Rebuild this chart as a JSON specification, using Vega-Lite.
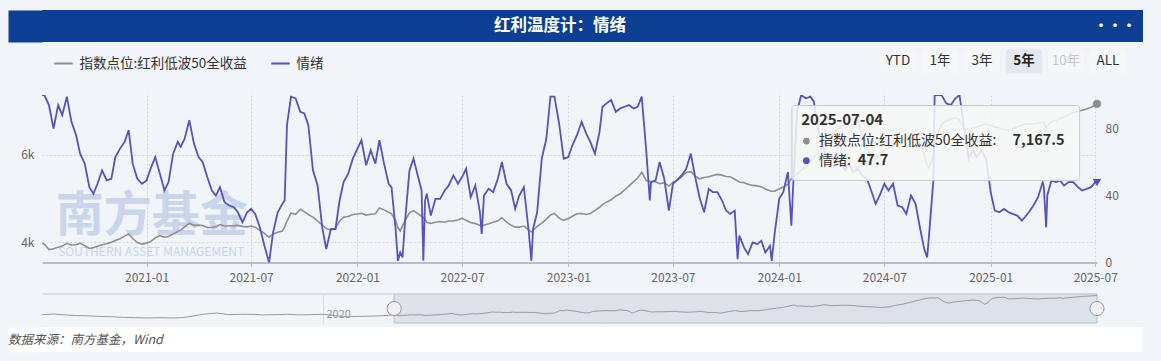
{
  "$schema": "https://vega.github.io/schema/vega-lite/v6.json",
  "background": "#f1f4f9",
  "padding": {"left": 8, "top": 10, "right": 18, "bottom": 11},
  "columns": 1,
  "spacing": 0,
  "resolve": {"scale": {"stroke": "independent"}, "legend": {"stroke": "independent"}},
  "config": {"font": "Noto Sans CJK SC", "view": {"stroke": null}},
  "datasets": {
    "main": [
      {"date":"2020-07-04","index":3970,"sent":100},{"date":"2020-07-08","index":3960,"sent":100},{"date":"2020-07-16","index":3830,"sent":94},{"date":"2020-07-24","index":3850,"sent":80},
      {"date":"2020-08-01","index":3886,"sent":94},{"date":"2020-08-08","index":3910,"sent":88},{"date":"2020-08-16","index":3975,"sent":99},{"date":"2020-08-24","index":3935,"sent":84},
      {"date":"2020-09-01","index":3943,"sent":76},{"date":"2020-09-08","index":3978,"sent":65},{"date":"2020-09-16","index":3920,"sent":59},{"date":"2020-09-24","index":3855,"sent":45},
      {"date":"2020-10-01","index":3871,"sent":41},{"date":"2020-10-08","index":3905,"sent":47},{"date":"2020-10-16","index":3940,"sent":55},{"date":"2020-10-24","index":3963,"sent":49},
      {"date":"2020-11-01","index":4000,"sent":50},{"date":"2020-11-08","index":4040,"sent":63},{"date":"2020-11-16","index":4078,"sent":68},{"date":"2020-11-24","index":4140,"sent":72},
      {"date":"2020-12-01","index":4190,"sent":79},{"date":"2020-12-08","index":4085,"sent":59},{"date":"2020-12-16","index":3990,"sent":50},{"date":"2020-12-24","index":3955,"sent":47},
      {"date":"2021-01-01","index":3978,"sent":49},{"date":"2021-01-08","index":4015,"sent":56},{"date":"2021-01-16","index":4100,"sent":63},{"date":"2021-01-24","index":4150,"sent":53},
      {"date":"2021-02-01","index":4115,"sent":43},{"date":"2021-02-08","index":4130,"sent":48},{"date":"2021-02-16","index":4190,"sent":65},{"date":"2021-02-24","index":4245,"sent":72},
      {"date":"2021-03-01","index":4275,"sent":69},{"date":"2021-03-08","index":4350,"sent":74},{"date":"2021-03-16","index":4435,"sent":85},{"date":"2021-03-24","index":4385,"sent":71},
      {"date":"2021-04-01","index":4390,"sent":63},{"date":"2021-04-08","index":4382,"sent":60},{"date":"2021-04-16","index":4340,"sent":51},{"date":"2021-04-24","index":4335,"sent":43},
      {"date":"2021-05-01","index":4355,"sent":40},{"date":"2021-05-08","index":4404,"sent":45},{"date":"2021-05-16","index":4370,"sent":36},{"date":"2021-05-24","index":4377,"sent":34},
      {"date":"2021-06-01","index":4378,"sent":33},{"date":"2021-06-08","index":4385,"sent":30},{"date":"2021-06-16","index":4362,"sent":24},{"date":"2021-06-24","index":4350,"sent":30},
      {"date":"2021-07-01","index":4370,"sent":32},{"date":"2021-07-08","index":4344,"sent":29},{"date":"2021-07-16","index":4270,"sent":21},{"date":"2021-07-24","index":4200,"sent":10},
      {"date":"2021-08-01","index":4115,"sent":0},{"date":"2021-08-08","index":4190,"sent":18},{"date":"2021-08-16","index":4230,"sent":30},{"date":"2021-08-24","index":4255,"sent":35},{"date":"2021-08-28","index":4350,"sent":37},
      {"date":"2021-09-01","index":4480,"sent":82},{"date":"2021-09-08","index":4670,"sent":99},{"date":"2021-09-16","index":4640,"sent":98},{"date":"2021-09-24","index":4755,"sent":90},
      {"date":"2021-10-01","index":4700,"sent":89},{"date":"2021-10-08","index":4630,"sent":82},{"date":"2021-10-16","index":4575,"sent":55},{"date":"2021-10-24","index":4485,"sent":46},
      {"date":"2021-11-01","index":4390,"sent":21},{"date":"2021-11-08","index":4310,"sent":8},{"date":"2021-11-16","index":4280,"sent":20},{"date":"2021-11-24","index":4320,"sent":20},
      {"date":"2021-12-01","index":4480,"sent":37},{"date":"2021-12-08","index":4573,"sent":48},{"date":"2021-12-16","index":4590,"sent":53},{"date":"2021-12-24","index":4634,"sent":62},
      {"date":"2022-01-01","index":4645,"sent":68},{"date":"2022-01-08","index":4660,"sent":73},{"date":"2022-01-16","index":4620,"sent":58},{"date":"2022-01-24","index":4640,"sent":67},
      {"date":"2022-02-01","index":4650,"sent":59},{"date":"2022-02-08","index":4785,"sent":73},{"date":"2022-02-16","index":4740,"sent":59},{"date":"2022-02-24","index":4687,"sent":47},
      {"date":"2022-03-01","index":4650,"sent":45},{"date":"2022-03-08","index":4500,"sent":20},{"date":"2022-03-12","index":4330,"sent":1},{"date":"2022-03-16","index":4260,"sent":6},{"date":"2022-03-20","index":4380,"sent":3},{"date":"2022-03-24","index":4480,"sent":23},
      {"date":"2022-04-01","index":4670,"sent":55},{"date":"2022-04-08","index":4722,"sent":62},{"date":"2022-04-16","index":4650,"sent":51},{"date":"2022-04-22","index":4590,"sent":43},{"date":"2022-04-25","index":4570,"sent":1},{"date":"2022-04-28","index":4520,"sent":37},
      {"date":"2022-05-01","index":4455,"sent":41},{"date":"2022-05-08","index":4430,"sent":28},{"date":"2022-05-16","index":4458,"sent":38},{"date":"2022-05-24","index":4473,"sent":38},
      {"date":"2022-06-01","index":4458,"sent":43},{"date":"2022-06-08","index":4485,"sent":46},{"date":"2022-06-16","index":4485,"sent":52},{"date":"2022-06-24","index":4510,"sent":47},
      {"date":"2022-07-01","index":4545,"sent":51},{"date":"2022-07-08","index":4500,"sent":56},{"date":"2022-07-16","index":4452,"sent":39},{"date":"2022-07-24","index":4425,"sent":46},
      {"date":"2022-08-01","index":4382,"sent":30},{"date":"2022-08-04","index":4382,"sent":17},{"date":"2022-08-08","index":4390,"sent":40},{"date":"2022-08-16","index":4420,"sent":44},{"date":"2022-08-24","index":4458,"sent":42},
      {"date":"2022-09-01","index":4490,"sent":50},{"date":"2022-09-08","index":4560,"sent":60},{"date":"2022-09-16","index":4458,"sent":47},{"date":"2022-09-24","index":4390,"sent":43},
      {"date":"2022-10-01","index":4344,"sent":32},{"date":"2022-10-08","index":4344,"sent":40},{"date":"2022-10-16","index":4370,"sent":45},{"date":"2022-10-24","index":4285,"sent":20},{"date":"2022-10-29","index":4232,"sent":1},
      {"date":"2022-11-01","index":4268,"sent":20},{"date":"2022-11-08","index":4360,"sent":30},{"date":"2022-11-16","index":4435,"sent":62},{"date":"2022-11-24","index":4530,"sent":74},
      {"date":"2022-12-01","index":4620,"sent":99},{"date":"2022-12-08","index":4660,"sent":99},{"date":"2022-12-16","index":4550,"sent":83},{"date":"2022-12-24","index":4500,"sent":62},
      {"date":"2023-01-01","index":4540,"sent":63},{"date":"2023-01-08","index":4595,"sent":70},{"date":"2023-01-16","index":4650,"sent":76},{"date":"2023-01-24","index":4655,"sent":84},
      {"date":"2023-02-01","index":4635,"sent":77},{"date":"2023-02-08","index":4655,"sent":72},{"date":"2023-02-16","index":4730,"sent":65},{"date":"2023-02-24","index":4800,"sent":78},
      {"date":"2023-03-01","index":4860,"sent":93},{"date":"2023-03-08","index":4916,"sent":95},{"date":"2023-03-16","index":4970,"sent":97},{"date":"2023-03-24","index":5055,"sent":90},
      {"date":"2023-04-01","index":5110,"sent":92},{"date":"2023-04-08","index":5190,"sent":93},{"date":"2023-04-16","index":5290,"sent":94},{"date":"2023-04-24","index":5385,"sent":92},
      {"date":"2023-05-01","index":5470,"sent":93},{"date":"2023-05-08","index":5600,"sent":99},{"date":"2023-05-16","index":5412,"sent":66},{"date":"2023-05-22","index":5395,"sent":37},{"date":"2023-05-24","index":5390,"sent":48},
      {"date":"2023-06-01","index":5385,"sent":49},{"date":"2023-06-08","index":5340,"sent":60},{"date":"2023-06-16","index":5362,"sent":50},{"date":"2023-06-24","index":5285,"sent":31},
      {"date":"2023-07-01","index":5370,"sent":47},{"date":"2023-07-08","index":5418,"sent":49},{"date":"2023-07-16","index":5495,"sent":52},{"date":"2023-07-24","index":5598,"sent":56},
      {"date":"2023-08-01","index":5615,"sent":65},{"date":"2023-08-08","index":5520,"sent":52},{"date":"2023-08-16","index":5452,"sent":39},{"date":"2023-08-24","index":5480,"sent":30},
      {"date":"2023-09-01","index":5498,"sent":44},{"date":"2023-09-08","index":5525,"sent":42},{"date":"2023-09-16","index":5553,"sent":42},{"date":"2023-09-24","index":5535,"sent":37},
      {"date":"2023-10-01","index":5505,"sent":31},{"date":"2023-10-08","index":5500,"sent":29},{"date":"2023-10-16","index":5440,"sent":31},{"date":"2023-10-21","index":5400,"sent":2},{"date":"2023-10-24","index":5378,"sent":16},
      {"date":"2023-11-01","index":5363,"sent":9},{"date":"2023-11-08","index":5328,"sent":5},{"date":"2023-11-16","index":5300,"sent":12},{"date":"2023-11-24","index":5290,"sent":11},
      {"date":"2023-12-01","index":5268,"sent":13},{"date":"2023-12-08","index":5220,"sent":6},{"date":"2023-12-16","index":5180,"sent":10},{"date":"2023-12-19","index":5165,"sent":1},{"date":"2023-12-24","index":5165,"sent":17},
      {"date":"2024-01-01","index":5218,"sent":38},{"date":"2024-01-08","index":5262,"sent":42},{"date":"2024-01-16","index":5330,"sent":54},{"date":"2024-01-22","index":5450,"sent":22},{"date":"2024-01-25","index":5490,"sent":45},
      {"date":"2024-02-01","index":5560,"sent":90},{"date":"2024-02-08","index":5650,"sent":100},{"date":"2024-02-16","index":5720,"sent":98},{"date":"2024-02-24","index":5850,"sent":99},
      {"date":"2024-03-01","index":5950,"sent":96},{"date":"2024-03-08","index":6050,"sent":80},{"date":"2024-03-16","index":6200,"sent":70},{"date":"2024-03-24","index":6300,"sent":62},
      {"date":"2024-04-01","index":6400,"sent":64},{"date":"2024-04-08","index":6550,"sent":58},{"date":"2024-04-16","index":6650,"sent":60},{"date":"2024-04-24","index":6720,"sent":55},
      {"date":"2024-05-01","index":6760,"sent":59},{"date":"2024-05-08","index":6700,"sent":54},{"date":"2024-05-16","index":6800,"sent":56},{"date":"2024-05-24","index":6450,"sent":52},
      {"date":"2024-06-01","index":6150,"sent":50},{"date":"2024-06-08","index":5950,"sent":43},{"date":"2024-06-16","index":5900,"sent":35},{"date":"2024-06-24","index":6050,"sent":41},
      {"date":"2024-07-01","index":6100,"sent":47},{"date":"2024-07-08","index":6150,"sent":43},{"date":"2024-07-16","index":6200,"sent":47},{"date":"2024-07-24","index":6250,"sent":34},
      {"date":"2024-08-01","index":6300,"sent":33},{"date":"2024-08-08","index":6350,"sent":29},{"date":"2024-08-16","index":6400,"sent":40},{"date":"2024-08-24","index":6350,"sent":35},
      {"date":"2024-09-01","index":6250,"sent":20},{"date":"2024-09-08","index":6000,"sent":8},{"date":"2024-09-13","index":5750,"sent":3},{"date":"2024-09-16","index":5700,"sent":15},{"date":"2024-09-24","index":5950,"sent":50},{"date":"2024-09-26","index":6200,"sent":100},
      {"date":"2024-10-01","index":6450,"sent":100},{"date":"2024-10-08","index":6700,"sent":100},{"date":"2024-10-16","index":6780,"sent":95},{"date":"2024-10-24","index":6820,"sent":94},
      {"date":"2024-11-01","index":6860,"sent":98},{"date":"2024-11-08","index":6800,"sent":100},{"date":"2024-11-16","index":6600,"sent":80},{"date":"2024-11-24","index":6580,"sent":62},
      {"date":"2024-12-01","index":6620,"sent":67},{"date":"2024-12-08","index":6630,"sent":63},{"date":"2024-12-16","index":6680,"sent":67},{"date":"2024-12-24","index":6710,"sent":62},
      {"date":"2025-01-01","index":6680,"sent":42},{"date":"2025-01-08","index":6640,"sent":31},{"date":"2025-01-16","index":6620,"sent":30},{"date":"2025-01-24","index":6580,"sent":32},
      {"date":"2025-02-01","index":6560,"sent":30},{"date":"2025-02-08","index":6600,"sent":29},{"date":"2025-02-16","index":6640,"sent":28},{"date":"2025-02-24","index":6680,"sent":25},
      {"date":"2025-03-01","index":6700,"sent":27},{"date":"2025-03-08","index":6710,"sent":30},{"date":"2025-03-16","index":6710,"sent":34},{"date":"2025-03-24","index":6720,"sent":39},
      {"date":"2025-04-01","index":6740,"sent":48},{"date":"2025-04-03","index":6750,"sent":45},{"date":"2025-04-07","index":6620,"sent":21},{"date":"2025-04-09","index":6680,"sent":40},{"date":"2025-04-16","index":6760,"sent":49},{"date":"2025-04-24","index":6790,"sent":48},
      {"date":"2025-05-01","index":6830,"sent":49},{"date":"2025-05-08","index":6870,"sent":46},{"date":"2025-05-16","index":6920,"sent":48},{"date":"2025-05-24","index":6975,"sent":48},
      {"date":"2025-06-01","index":7000,"sent":45},{"date":"2025-06-08","index":7020,"sent":43},{"date":"2025-06-16","index":7050,"sent":44},{"date":"2025-06-24","index":7090,"sent":45},
      {"date":"2025-07-01","index":7150,"sent":48},{"date":"2025-07-04","index":7167.5,"sent":47.7}
    ],
    "hist": [
      {"date":"2018-01-02","index":4000},{"date":"2018-02-01","index":4100},{"date":"2018-03-01","index":3950},{"date":"2018-04-01","index":3850},
      {"date":"2018-05-01","index":3800},{"date":"2018-06-01","index":3700},{"date":"2018-07-01","index":3650},{"date":"2018-08-01","index":3550},
      {"date":"2018-09-01","index":3500},{"date":"2018-10-01","index":3450},{"date":"2018-11-01","index":3500},{"date":"2018-12-01","index":3450},
      {"date":"2019-01-01","index":3500},{"date":"2019-02-01","index":3800},{"date":"2019-03-01","index":4100},{"date":"2019-04-01","index":4250},
      {"date":"2019-05-01","index":4000},{"date":"2019-06-01","index":4050},{"date":"2019-07-01","index":4050},{"date":"2019-08-01","index":3950},
      {"date":"2019-09-01","index":4000},{"date":"2019-10-01","index":4050},{"date":"2019-11-01","index":3950},{"date":"2019-12-01","index":4000},
      {"date":"2020-01-01","index":4050},{"date":"2020-02-01","index":3850},{"date":"2020-03-01","index":3650},{"date":"2020-04-01","index":3700},
      {"date":"2020-05-01","index":3750},{"date":"2020-06-01","index":3800},{"date":"2020-07-04","index":3970}
    ]
  },
  "concat": [
    {
      "width": 1101,
      "height": 32,
      "view": {"fill": "#0c3f93", "stroke": null},
      "data": {"values": [{"t": "红利温度计：情绪"}]},
      "layer": [
        {
          "mark": {"type": "text", "color": "#ffffff", "fontSize": 16.5, "fontWeight": "bold", "baseline": "middle"},
          "encoding": {
            "text": {"field": "t", "type": "nominal"},
            "x": {"datum": 0.4705, "type": "quantitative", "scale": {"domain": [0, 1]}, "axis": null},
            "y": {"datum": 0.5, "type": "quantitative", "scale": {"domain": [0, 1]},
              "axis": {"orient": "left", "domain": true, "domainColor": "#0c3f93", "domainWidth": 34, "offset": 17, "labels": false, "ticks": false, "grid": false, "title": null, "minExtent": 17, "maxExtent": 17}}
          }
        },
        {
          "mark": {"type": "text", "color": "#ffffff", "fontSize": 14, "fontWeight": "bold", "text": "···", "align": "center", "baseline": "middle", "dx": -28},
          "encoding": {
            "x": {"datum": 1, "type": "quantitative"},
            "y": {"datum": 0.5, "type": "quantitative"}
          }
        }
      ]
    },
    {
      "hconcat": [
        {
          "width": 835,
          "height": 52.5,
          "data": {"values": []},
          "mark": {"type": "line"},
          "encoding": {
            "stroke": {
              "field": "s", "type": "nominal",
              "scale": {"domain": ["指数点位:红利低波50全收益", "情绪"], "range": ["#8e8e8e", "#5652be"]},
              "legend": {"orient": "top-left", "offset": 11, "direction": "horizontal", "title": null, "symbolType": "stroke", "symbolSize": 342, "symbolStrokeWidth": 2, "labelFontSize": 13.5, "labelColor": "#333333", "labelLimit": 400, "columnPadding": 20, "labelOffset": 5.5}
            }
          }
        },
        {
          "width": 252,
          "height": 52.5,
          "data": {"values": [{"btn": "YTD"}, {"btn": "1年"}, {"btn": "3年"}, {"btn": "5年"}, {"btn": "10年"}, {"btn": "ALL"}]},
          "layer": [
            {
              "mark": {"type": "bar", "cornerRadius": 2},
              "encoding": {
                "x": {"field": "btn", "type": "nominal", "sort": null, "scale": {"type": "band", "paddingInner": 0.143, "paddingOuter": 0.0714, "align": 0.5}, "axis": null},
                "y": {"datum": "b", "type": "nominal", "scale": {"type": "band", "paddingInner": 0, "paddingOuter": 0.594, "align": 0.256}, "axis": null},
                "fill": {"condition": {"test": "datum.btn == '5年'", "value": "#e2e7f0"}, "value": "#f6f7f9"}
              }
            },
            {
              "transform": [{"filter": "datum.btn != '5年'"}],
              "mark": {"type": "text", "fontSize": 13.5, "baseline": "middle"},
              "encoding": {
                "x": {"field": "btn", "type": "nominal", "sort": null},
                "y": {"datum": "b", "type": "nominal"},
                "text": {"field": "btn", "type": "nominal"},
                "color": {"condition": {"test": "datum.btn == '10年'", "value": "#c8c8c8"}, "value": "#333333"}
              }
            },
            {
              "transform": [{"filter": "datum.btn == '5年'"}],
              "mark": {"type": "text", "fontSize": 13.5, "fontWeight": "bold", "baseline": "middle", "color": "#222222"},
              "encoding": {
                "x": {"field": "btn", "type": "nominal", "sort": null},
                "y": {"datum": "b", "type": "nominal"},
                "text": {"field": "btn", "type": "nominal"}
              }
            }
          ]
        }
      ],
      "spacing": 0,
      "resolve": {"scale": {"stroke": "independent"}, "legend": {"stroke": "independent"}}
    },
    {
      "width": 1055,
      "height": 167.5,
      "layer": [
        {
          "data": {"values": [{"a": "南方基金", "b": "SOUTHERN ASSET MANAGEMENT"}]},
          "layer": [
            {
              "mark": {"type": "text", "fontSize": 48, "fontWeight": "bold", "color": "#c8d5ea", "align": "left", "baseline": "bottom"},
              "encoding": {
                "text": {"field": "a", "type": "nominal"},
                "x": {"datum": {"year": 2020, "month": 7, "date": 28, "utc": true}, "type": "temporal"},
                "y": {"datum": 13, "type": "quantitative", "scale": {"domain": [0, 100], "nice": false}, "axis": null}
              }
            },
            {
              "mark": {"type": "text", "fontSize": 12, "color": "#c8d5ea", "align": "left", "baseline": "middle"},
              "encoding": {
                "text": {"field": "b", "type": "nominal"},
                "x": {"datum": {"year": 2020, "month": 8, "date": 1, "utc": true}, "type": "temporal"},
                "y": {"datum": 6, "type": "quantitative"}
              }
            }
          ]
        },
        {
          "data": {"name": "main"},
          "layer": [
            {
              "mark": {"type": "line", "strokeWidth": 1.6, "clip": true, "color": "#8e8e8e"},
              "encoding": {
                "x": {
                  "field": "date", "type": "temporal",
                  "scale": {"domain": [{"year": 2020, "month": 7, "date": 4, "utc": true}, {"year": 2025, "month": 7, "date": 4, "utc": true}]},
                  "axis": {"orient": "bottom", "format": "%Y-%m", "tickCount": {"interval": "month", "step": 6}, "grid": true, "gridDash": [2, 2], "gridColor": "#d3d7df", "domain": true, "domainColor": "#b9bdc5", "domainWidth": 2, "ticks": true, "tickColor": "#b9bdc5", "tickSize": 4, "labelPadding": 6, "labelColor": "#666666", "labelFontSize": 12, "labelFlush": false, "minExtent": 30, "maxExtent": 30, "title": null}
                },
                "y": {
                  "field": "index", "type": "quantitative",
                  "scale": {"domain": [3535, 7370], "nice": false, "zero": false},
                  "axis": {"orient": "left", "values": [4000, 6000], "labelExpr": "datum.value / 1000 + 'k'", "grid": true, "gridDash": [2, 2], "gridColor": "#d3d7df", "domain": false, "ticks": false, "tickSize": 0, "labelPadding": 8, "labelColor": "#666666", "labelFontSize": 12, "minExtent": 34, "maxExtent": 34, "title": null}
                }
              }
            },
            {
              "transform": [{"filter": "datum.index == 7167.5"}],
              "mark": {"type": "point", "filled": true, "size": 70, "color": "#8e8e8e", "opacity": 1},
              "encoding": {
                "x": {"field": "date", "type": "temporal"},
                "y": {"field": "index", "type": "quantitative"}
              }
            }
          ]
        },
        {
          "data": {"name": "main"},
          "layer": [
            {
              "mark": {"type": "line", "strokeWidth": 1.8, "clip": true, "color": "#5652be"},
              "encoding": {
                "x": {"field": "date", "type": "temporal"},
                "y": {
                  "field": "sent", "type": "quantitative",
                  "scale": {"domain": [0, 100], "nice": false},
                  "axis": {"orient": "right", "values": [0, 20, 40, 60, 80, 100], "grid": false, "domain": false, "ticks": false, "tickSize": 0, "labelPadding": 8, "labelColor": "#666666", "labelFontSize": 12, "title": null}
                }
              }
            },
            {
              "transform": [{"filter": "datum.index == 7167.5"}],
              "mark": {"type": "point", "filled": true, "size": 70, "shape": "triangle-down", "color": "#5652be", "opacity": 1},
              "encoding": {
                "x": {"field": "date", "type": "temporal"},
                "y": {"field": "sent", "type": "quantitative"}
              }
            }
          ]
        },
        {
          "data": {"values": [{"d": "2025-07-04", "l1": "指数点位:红利低波50全收益: ", "v1": "7,167.5", "l2": "情绪: ", "v2": "47.7"}]},
          "layer": [
            {
              "mark": {"type": "rect", "fill": "#f7f7f7", "fillOpacity": 0.86, "stroke": "#c9c9c9", "strokeWidth": 1, "cornerRadius": 3},
              "encoding": {
                "x": {"datum": {"year": 2024, "month": 1, "date": 23, "utc": true}, "type": "temporal"},
                "x2": {"datum": {"year": 2025, "month": 6, "date": 4, "utc": true}},
                "y": {"datum": 93.7, "type": "quantitative", "scale": {"domain": [0, 100], "nice": false}, "axis": null},
                "y2": {"datum": 49}
              }
            },
            {
              "mark": {"type": "text", "fontSize": 15, "fontWeight": "bold", "color": "#333333", "align": "left", "baseline": "middle"},
              "encoding": {
                "text": {"field": "d", "type": "nominal"},
                "x": {"datum": {"year": 2024, "month": 2, "date": 8, "utc": true}, "type": "temporal"},
                "y": {"datum": 84.8, "type": "quantitative"}
              }
            },
            {
              "mark": {"type": "point", "filled": true, "size": 45, "color": "#8e8e8e", "opacity": 1},
              "encoding": {
                "x": {"datum": {"year": 2024, "month": 2, "date": 17, "utc": true}, "type": "temporal"},
                "y": {"datum": 72.5, "type": "quantitative"}
              }
            },
            {
              "mark": {"type": "point", "filled": true, "size": 45, "color": "#5652be", "opacity": 1},
              "encoding": {
                "x": {"datum": {"year": 2024, "month": 2, "date": 17, "utc": true}, "type": "temporal"},
                "y": {"datum": 60.8, "type": "quantitative"}
              }
            },
            {
              "mark": {"type": "text", "fontSize": 14, "color": "#333333", "align": "left", "baseline": "middle"},
              "encoding": {
                "text": {"field": "l1", "type": "nominal"},
                "x": {"datum": {"year": 2024, "month": 3, "date": 10, "utc": true}, "type": "temporal"},
                "y": {"datum": 72.5, "type": "quantitative"}
              }
            },
            {
              "mark": {"type": "text", "fontSize": 14.5, "fontWeight": "bold", "color": "#333333", "align": "right", "baseline": "middle"},
              "encoding": {
                "text": {"field": "v1", "type": "nominal"},
                "x": {"datum": {"year": 2025, "month": 5, "date": 9, "utc": true}, "type": "temporal"},
                "y": {"datum": 72.5, "type": "quantitative"}
              }
            },
            {
              "mark": {"type": "text", "fontSize": 14, "color": "#333333", "align": "left", "baseline": "middle"},
              "encoding": {
                "text": {"field": "l2", "type": "nominal"},
                "x": {"datum": {"year": 2024, "month": 3, "date": 10, "utc": true}, "type": "temporal"},
                "y": {"datum": 60.8, "type": "quantitative"}
              }
            },
            {
              "mark": {"type": "text", "fontSize": 14.5, "fontWeight": "bold", "color": "#333333", "align": "left", "baseline": "middle"},
              "encoding": {
                "text": {"field": "v2", "type": "nominal"},
                "x": {"datum": {"year": 2024, "month": 5, "date": 16, "utc": true}, "type": "temporal"},
                "y": {"datum": 60.8, "type": "quantitative"}
              }
            }
          ]
        }
      ],
      "resolve": {"scale": {"y": "independent"}, "axis": {"y": "independent"}}
    },
    {
      "width": 1055,
      "height": 29,
      "layer": [
        {
          "data": {"name": "main"},
          "mark": {"type": "rect", "fill": "#dde2eb", "stroke": "#b9c0cb", "strokeWidth": 1},
          "encoding": {
            "x": {"aggregate": "min", "field": "date", "type": "temporal"},
            "x2": {"aggregate": "max", "field": "date"}
          }
        },
        {
          "data": {"name": "hist"},
          "mark": {"type": "line", "color": "#9a9a9a", "strokeWidth": 1},
          "encoding": {
            "x": {
              "field": "date", "type": "temporal",
              "scale": {"domain": [{"year": 2018, "month": 1, "date": 1, "utc": true}, {"year": 2025, "month": 7, "date": 4, "utc": true}]},
              "axis": {"orient": "bottom", "values": [{"year": 2020, "month": 1, "date": 1}, {"year": 2022, "month": 1, "date": 1}, {"year": 2024, "month": 1, "date": 1}], "format": "%Y", "grid": true, "gridColor": "#d6dae1", "domain": false, "ticks": false, "tickSize": 0, "labelAlign": "left", "labelOffset": 3, "labelPadding": -15, "labelBaseline": "top", "labelColor": "#999999", "labelFontSize": 11, "minExtent": 3.5, "maxExtent": 3.5, "title": null}
            },
            "y": {"field": "index", "type": "quantitative", "scale": {"domain": [2626, 7380], "nice": false, "zero": false}, "axis": null}
          }
        },
        {
          "data": {"name": "main"},
          "mark": {"type": "line", "color": "#9a9a9a", "strokeWidth": 1},
          "encoding": {
            "x": {"field": "date", "type": "temporal"},
            "y": {"field": "index", "type": "quantitative"}
          }
        },
        {
          "data": {"name": "hist"},
          "mark": {"type": "rule", "color": "#c3c8d0", "strokeWidth": 1},
          "encoding": {
            "x": {"aggregate": "min", "field": "date", "type": "temporal"},
            "x2": {"aggregate": "max", "field": "date"},
            "y": {"datum": 7380, "type": "quantitative"}
          }
        },
        {
          "data": {"name": "main"},
          "mark": {"type": "point", "filled": true, "size": 200, "fill": "#f2f2f2", "stroke": "#999999", "strokeWidth": 1, "opacity": 1},
          "encoding": {"x": {"aggregate": "min", "field": "date", "type": "temporal"}}
        },
        {
          "data": {"name": "main"},
          "mark": {"type": "point", "filled": true, "size": 200, "fill": "#f2f2f2", "stroke": "#999999", "strokeWidth": 1, "opacity": 1},
          "encoding": {"x": {"aggregate": "max", "field": "date", "type": "temporal"}}
        }
      ]
    },
    {
      "width": 1101,
      "height": 25,
      "view": {"fill": "#ffffff", "stroke": null},
      "data": {"values": [{"t": "数据来源：南方基金，Wind"}]},
      "mark": {"type": "text", "align": "left", "baseline": "middle", "fontStyle": "italic", "fontSize": 12.5, "color": "#555555", "dx": -34},
      "encoding": {
        "text": {"field": "t", "type": "nominal"},
        "x": {"datum": 0, "type": "quantitative", "scale": {"domain": [0, 1]}, "axis": null},
        "y": {"datum": 0.5, "type": "quantitative", "scale": {"domain": [0, 1]},
          "axis": {"orient": "left", "domain": true, "domainColor": "#ffffff", "domainWidth": 34, "offset": 17, "labels": false, "ticks": false, "grid": false, "title": null, "minExtent": 17, "maxExtent": 17}}
      }
    }
  ]
}
